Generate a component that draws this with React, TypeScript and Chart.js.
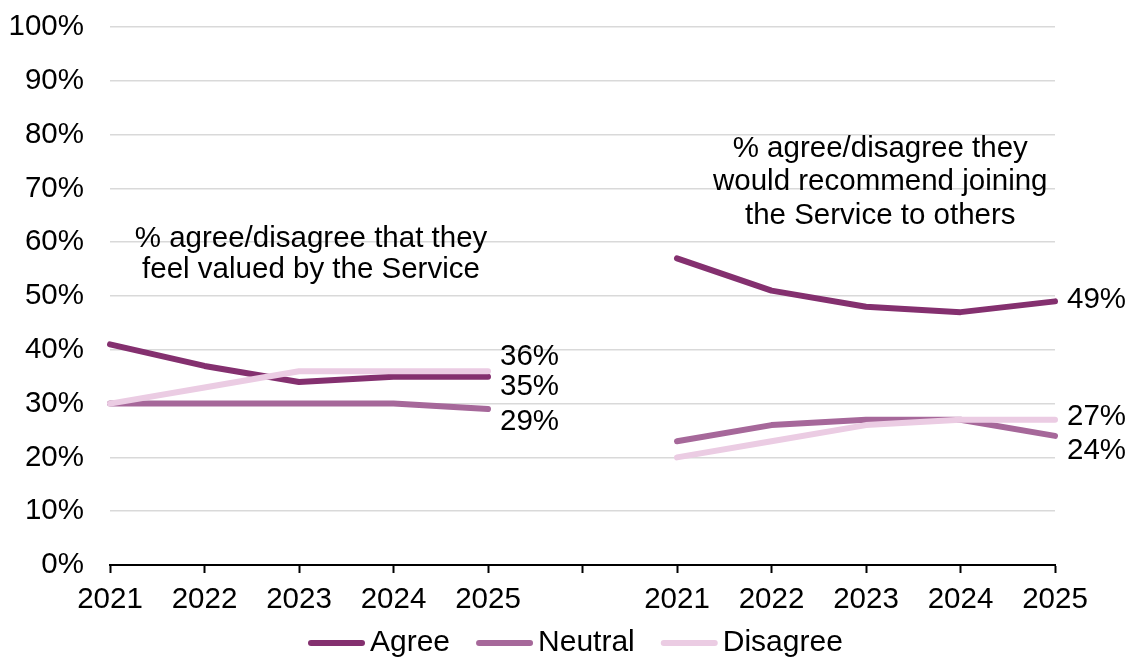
import React, { useEffect, useRef } from "react";
import { Chart, registerables } from "chart.js";

Chart.register(...registerables);

const categories = ["2021", "2022", "2023", "2024", "2025", "", "2021", "2022", "2023", "2024", "2025"];
const agree = [41, 37, 34, 35, 35, null, 57, 51, 48, 47, 49];
const neutral = [30, 30, 30, 30, 29, null, 23, 26, 27, 27, 24];
const disagree = [30, 33, 36, 36, 36, null, 20, 23, 26, 27, 27];
const yTicks = [0, 10, 20, 30, 40, 50, 60, 70, 80, 90, 100];
const seriesNames = ["Agree", "Neutral", "Disagree"];
const seriesColors = ["#84306F", "#A6689A", "#EBCCE3"];
const leftNote = ["% agree/disagree that they", "feel valued by the Service"];
const rightNote = ["% agree/disagree they", "would recommend joining", "the Service to others"];
// end labels: [series index, category index, text, dy offset]
const endLabels: [number, number, string, number][] = [
  [2, 4, "36%", -14],
  [0, 4, "35%", 10],
  [1, 4, "29%", 13],
  [0, 10, "49%", -2],
  [2, 10, "27%", -3],
  [1, 10, "24%", 15],
];

const FONT = "'Liberation Sans', Arial, sans-serif";
const FS = 29.5;

export default function App() {
  const ref = useRef<HTMLCanvasElement | null>(null);
  useEffect(() => {
    document.body.style.margin = "0";
    const canvas = ref.current;
    if (!canvas) return;
    const seriesData = [agree, neutral, disagree];
    const overlay = {
      id: "overlay",
      afterDraw(chart: any) {
        const ctx = chart.ctx;
        const xs = chart.scales.x;
        const ys = chart.scales.y;
        ctx.save();
        ctx.fillStyle = "#000";
        ctx.font = `${FS}px ${FONT}`;
        ctx.textBaseline = "middle";
        // end labels
        ctx.textAlign = "left";
        endLabels.forEach(([si, ci, txt, dy]) => {
          const v = seriesData[si][ci] as number;
          ctx.fillText(txt, xs.getPixelForValue(ci) + 12, ys.getPixelForValue(v) + dy);
        });
        // notes
        ctx.textAlign = "center";
        const lx = (xs.getPixelForValue(1) + xs.getPixelForValue(3)) / 2 + 12;
        leftNote.forEach((t, i) => ctx.fillText(t, lx, ys.getPixelForValue(60.7) + i * 31));
        const rx = (xs.getPixelForValue(8) + xs.getPixelForValue(9)) / 2 - 33;
        rightNote.forEach((t, i) => ctx.fillText(t, rx, ys.getPixelForValue(77.4) + i * 33.5));
        // legend
        ctx.font = `30px ${FONT}`;
        const ly = 643;
        const items = seriesNames.map((n) => ({ n, w: ctx.measureText(n).width }));
        const markW = 57;
        const gapMT = 5;
        const gapItem = 26;
        let x = 308;
        ctx.textAlign = "left";
        items.forEach((it, i) => {
          ctx.strokeStyle = seriesColors[i];
          ctx.lineWidth = 6;
          ctx.lineCap = "round";
          ctx.beginPath();
          ctx.moveTo(x + 3, ly);
          ctx.lineTo(x + markW - 3, ly);
          ctx.stroke();
          ctx.fillText(it.n, x + markW + gapMT, ly);
          x += markW + gapMT + it.w + gapItem;
        });
        ctx.restore();
      },
    };
    const chart = new Chart(canvas, {
      type: "line",
      data: {
        labels: categories,
        datasets: seriesNames.map((name, i) => ({
          label: name,
          data: seriesData[i],
          borderColor: seriesColors[i],
          backgroundColor: seriesColors[i],
          borderWidth: 6,
          pointRadius: 0,
          pointHoverRadius: 0,
          tension: 0,
          borderCapStyle: "round",
          borderJoinStyle: "round",
          spanGaps: false,
          order: 3 - i,
        })),
      },
      options: {
        animation: false,
        responsive: true,
        maintainAspectRatio: false,
        layout: { padding: { top: 27, right: 77, bottom: 40, left: 0 } },
        plugins: { legend: { display: false }, tooltip: { enabled: false } },
        scales: {
          x: {
            offset: false,
            grid: {
              drawOnChartArea: false,
              drawTicks: true,
              tickLength: 8,
              tickWidth: 2,
              tickColor: "#000",
            },
            border: { display: true, color: "#000", width: 2 },
            ticks: {
              color: "#000",
              font: { family: FONT, size: FS },
              padding: 9,
              maxRotation: 0,
              autoSkip: false,
            },
            afterFit: (s: any) => {
              s.height = 55;
            },
          },
          y: {
            min: 0,
            max: 100,
            afterBuildTicks: (s: any) => {
              s.ticks = yTicks.map((v) => ({ value: v }));
            },
            grid: { color: "#D9D9D9", lineWidth: 1.5, drawTicks: false },
            border: { display: false },
            ticks: {
              color: "#000",
              font: { family: FONT, size: FS },
              padding: 26,
              callback: (v: any) => `${v}%`,
            },
            afterFit: (s: any) => {
              s.width = 110;
              s.paddingTop = 0;
              s.paddingBottom = 0;
            },
          },
        },
      },
      plugins: [overlay],
    });
    return () => chart.destroy();
  }, []);
  return (
    <div style={{ width: 1132, height: 660, position: "relative" }}>
      <canvas ref={ref} />
    </div>
  );
}
